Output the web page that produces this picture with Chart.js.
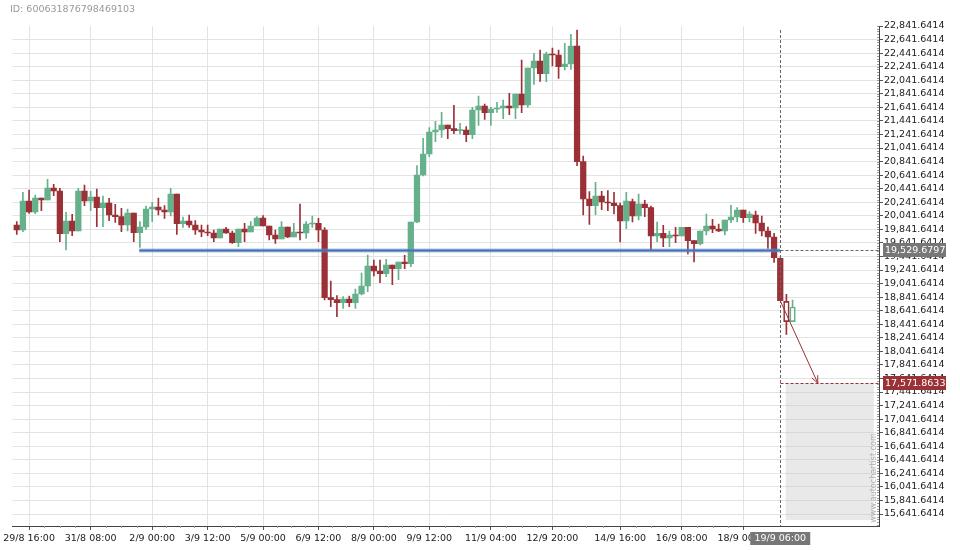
<!DOCTYPE html>
<html><head><meta charset="utf-8">
<script src="https://cdn.jsdelivr.net/npm/chart.js@4.4.0/dist/chart.umd.min.js"></script>
<style>html,body{margin:0;padding:0;background:#fff;} #wrap{width:960px;height:550px;position:relative;}</style>
</head><body><div id="wrap"><canvas id="c"></canvas></div>
<script>
// candle index = number of 4-hour steps since 29/8 16:00
const candleStart = -2;
const opens = [19906,19832,20260,20097,20304,20274,20451,20407,19778,19965,19817,20407,20260,20319,20161,20230,20053,20028,19906,20083,19792,19876,20142,20171,20127,20097,20363,19925,19965,19906,19832,19802,19788,19714,19847,19788,19645,19847,19802,19891,20009,19891,19758,19699,19876,19728,19802,19788,19920,19930,19832,18833,18804,18760,18814,18760,18887,19006,19301,19227,19187,19315,19261,19360,19335,19950,20643,20953,21278,21307,21381,21327,21297,21307,21238,21602,21661,21563,21617,21632,21661,21632,21838,21676,22222,22325,22138,22429,22414,22242,22281,22547,20840,20289,20191,20334,20245,20230,20191,19965,20250,20038,20216,20162,19743,19783,19714,19758,19743,19871,19675,19630,19817,19891,19847,19817,19980,20024,20127,20014,20053,19935,19817,19728,19414,18779,18479];
const highs = [19955,20387,20422,20348,20304,20579,20506,20447,20092,20063,20447,20496,20402,20437,20333,20299,20210,20151,20142,20083,19955,20186,20240,20304,20191,20447,20363,20024,20053,19969,19906,19906,19832,19847,19871,19817,19847,19930,19955,20028,20043,19891,19832,19955,19876,19930,20215,19955,20038,20004,19866,19079,18863,18848,18858,18961,19197,19463,19389,19389,19399,19315,19360,19458,19950,20781,21184,21342,21435,21568,21381,21671,21406,21356,21642,21809,21691,21642,21716,21750,21848,21838,22340,22222,22438,22488,22458,22517,22488,22586,22719,22783,20924,20398,20535,20402,20412,20388,20230,20388,20289,20363,20270,20186,19950,19901,19817,19871,19871,19871,19675,19817,20068,19989,19920,19980,20196,20162,20127,20103,20112,20038,19876,19782,19424,18883,18799];
const lows = [19768,19807,20078,20073,20117,20274,20338,19660,19537,19748,19817,20191,20117,19881,19881,19969,19945,19807,19817,19660,19576,19842,19955,20053,20004,20038,19768,19871,19871,19768,19733,19748,19660,19714,19783,19635,19586,19660,19802,19891,19891,19684,19635,19699,19719,19728,19684,19709,19871,19660,18799,18701,18553,18676,18701,18676,18873,18922,19153,19055,19143,19025,19099,19261,19291,19940,20629,20914,21135,21199,21179,21253,21248,21135,21179,21376,21465,21376,21568,21474,21533,21474,21563,21642,21981,22025,22020,22252,22070,22193,22202,20781,20053,19915,20058,20132,20117,20068,19655,19852,19950,19980,20029,19537,19660,19586,19586,19645,19743,19478,19360,19611,19758,19793,19807,19758,19940,19950,19945,19950,19782,19743,19561,19355,18789,18292,18479];
const closes = [19832,20260,20097,20304,20274,20451,20407,19778,19965,19817,20407,20260,20319,20161,20230,20053,20028,19906,20083,19792,19876,20142,20171,20127,20097,20363,19925,19965,19906,19832,19802,19788,19714,19847,19788,19645,19847,19802,19891,20009,19891,19758,19699,19876,19728,19802,19788,19920,19935,19832,18833,18804,18760,18814,18760,18887,19006,19301,19227,19187,19315,19261,19360,19335,19950,20643,20953,21278,21307,21381,21327,21297,21307,21238,21602,21661,21563,21617,21632,21661,21632,21838,21676,22222,22325,22138,22429,22414,22242,22281,22547,20840,20289,20191,20334,20245,20230,20191,19965,20260,20038,20216,20162,19743,19783,19714,19758,19743,19871,19675,19630,19817,19891,19847,19817,19980,20024,20127,20014,20068,19935,19817,19728,19424,18789,18479,18696];
const hollowCandles = [123, 124];

const xTickPositions = [0,10,20,29,38,47,56,65,75,85,96,106,116];
const xTickLabels = ['29/8 16:00','31/8 08:00','2/9 00:00','3/9 12:00','5/9 00:00','6/9 12:00','8/9 00:00','9/9 12:00','11/9 04:00','12/9 20:00','14/9 16:00','16/9 08:00','18/9 00:00'];
const yTickValues = [15641.6414,15841.6414,16041.6414,16241.6414,16441.6414,16641.6414,16841.6414,17041.6414,17241.6414,17441.6414,17641.6414,17841.6414,18041.6414,18241.6414,18441.6414,18641.6414,18841.6414,19041.6414,19241.6414,19441.6414,19641.6414,19841.6414,20041.6414,20241.6414,20441.6414,20641.6414,20841.6414,21041.6414,21241.6414,21441.6414,21641.6414,21841.6414,22041.6414,22241.6414,22441.6414,22641.6414,22841.6414];

const supportLevel = 19529.6797;
const supportStartIndex = 17.9;
const signalIndex = 122;
const signalLabel = '19/9 06:00';
const targetLevel = 17571.8633;
const arrowStartLevel = 18788.6;
const arrowEndIndex = 128.1;
const forecastStartIndex = 122.9;
const forecastEndIndex = 137.2;
const forecastLowLevel = 15553;
const chartId = 'ID: 600631876798469103';
const watermark = 'www.autochartist.com';

const FONT = '"DejaVu Sans", sans-serif';
const FS = 9.5;
const GREEN = '#64b18b', RED = '#9b3136';

const fmt = v => v.toLocaleString('en-US', {minimumFractionDigits:4, maximumFractionDigits:4});
const isHollow = i => hollowCandles.includes(candleStart + i);
const col = i => closes[i] >= opens[i] ? GREEN : RED;

const bodyData = opens.map((o,i)=>({x:candleStart+i, y:[o, closes[i]]}));
const upperData = opens.map((o,i)=>({x:candleStart+i, y:[Math.max(o,closes[i]), highs[i]]}));
const lowerData = opens.map((o,i)=>({x:candleStart+i, y:[lows[i], Math.min(o,closes[i])]}));

const annot = {
  id:'annot',
  beforeDatasetsDraw(chart){
    const {ctx, scales:{x,y}} = chart;
    const x0=x.getPixelForValue(forecastStartIndex), x1=x.getPixelForValue(forecastEndIndex);
    const y0=y.getPixelForValue(targetLevel), y1=y.getPixelForValue(forecastLowLevel);
    ctx.save();
    ctx.fillStyle='rgba(200,200,200,0.4)';
    ctx.fillRect(x0,y0,x1-x0,y1-y0);
    ctx.restore();
  },
  afterDatasetsDraw(chart){
    const {ctx, chartArea:a, scales:{x,y}} = chart;
    ctx.save();
    const ys = y.getPixelForValue(supportLevel);
    const xs0 = x.getPixelForValue(supportStartIndex), xs1 = x.getPixelForValue(signalIndex);
    ctx.lineCap='butt';
    ctx.strokeStyle='rgba(110,150,205,0.55)'; ctx.lineWidth=4;
    ctx.beginPath(); ctx.moveTo(xs0,ys); ctx.lineTo(xs1,ys); ctx.stroke();
    ctx.strokeStyle='#4272b5'; ctx.lineWidth=2;
    ctx.beginPath(); ctx.moveTo(xs0,ys); ctx.lineTo(xs1,ys); ctx.stroke();
    const xsig = Math.round(x.getPixelForValue(signalIndex))+0.5;
    ctx.setLineDash([3,2]); ctx.lineWidth=1;
    ctx.strokeStyle='#666';
    ctx.beginPath(); ctx.moveTo(xsig, a.top+4); ctx.lineTo(xsig, a.bottom); ctx.stroke();
    const ysr = Math.round(ys)+0.5;
    ctx.beginPath(); ctx.moveTo(xsig, ysr); ctx.lineTo(a.right, ysr); ctx.stroke();
    const yt = Math.round(y.getPixelForValue(targetLevel))+0.5;
    ctx.strokeStyle=RED;
    ctx.beginPath(); ctx.moveTo(xsig, yt); ctx.lineTo(a.right, yt); ctx.stroke();
    ctx.setLineDash([]);
    const ax0=x.getPixelForValue(signalIndex), ay0=y.getPixelForValue(arrowStartLevel);
    const ax1=x.getPixelForValue(arrowEndIndex), ay1=y.getPixelForValue(targetLevel);
    ctx.strokeStyle=RED; ctx.lineWidth=1;
    ctx.beginPath(); ctx.moveTo(ax0,ay0); ctx.lineTo(ax1,ay1); ctx.stroke();
    const ang=Math.atan2(ay1-ay0, ax1-ax0), L=8, sp=0.42;
    ctx.beginPath();
    ctx.moveTo(ax1-L*Math.cos(ang-sp), ay1-L*Math.sin(ang-sp)); ctx.lineTo(ax1,ay1);
    ctx.lineTo(ax1-L*Math.cos(ang+sp), ay1-L*Math.sin(ang+sp)); ctx.stroke();
    ctx.restore();
  },
  afterDraw(chart){
    const {ctx, chartArea:a, scales:{x,y}} = chart;
    ctx.save();
    ctx.strokeStyle='#999'; ctx.lineWidth=1;
    ctx.beginPath();
    for (let v=yTickValues[0]-200; v<=y.max; v+=40){
      const py=y.getPixelForValue(v);
      if (py<a.top||py>a.bottom) continue;
      ctx.moveTo(a.right-2, Math.round(py)+0.5); ctx.lineTo(a.right, Math.round(py)+0.5);
    }
    for (let j=0;j<xTickPositions.length-1;j++){
      const p0=xTickPositions[j], p1=xTickPositions[j+1];
      for (let q=1;q<4;q++){
        const px=Math.round(x.getPixelForValue(p0+(p1-p0)*q/4))+0.5;
        ctx.moveTo(px,a.bottom); ctx.lineTo(px,a.bottom+2);
      }
    }
    ctx.stroke();
    ctx.font = FS+'px '+FONT; ctx.textBaseline='middle'; ctx.textAlign='left';
    const ys=y.getPixelForValue(supportLevel);
    ctx.fillStyle='#777'; ctx.fillRect(a.right+4, Math.round(ys)-7, 63, 14);
    ctx.fillStyle='#fff'; ctx.fillText(fmt(supportLevel), a.right+6, ys+0.5);
    const yt=y.getPixelForValue(targetLevel);
    ctx.fillStyle=RED; ctx.fillRect(a.right+4, Math.round(yt)-7, 63, 14);
    ctx.fillStyle='#fff'; ctx.fillText(fmt(targetLevel), a.right+6, yt+0.5);
    const xsig=x.getPixelForValue(signalIndex);
    ctx.textAlign='center';
    ctx.fillStyle='#777'; ctx.fillRect(xsig-30, a.bottom+6, 60, 13);
    ctx.fillStyle='#fff'; ctx.fillText(signalLabel, xsig, a.bottom+12.5);
    ctx.textAlign='left'; ctx.fillStyle='#999';
    ctx.fillText(chartId, 10, 10);
    ctx.translate(a.right-5.5, 478); ctx.rotate(-Math.PI/2);
    ctx.textAlign='center'; ctx.fillStyle='#b0b0b0'; ctx.font='8px '+FONT;
    ctx.fillText(watermark, 0, 0);
    ctx.restore();
  }
};

const wickCommon = {type:'bar', grouped:false, barThickness:1, borderWidth:0, order:2,
  backgroundColor: c => col(c.dataIndex)};

new Chart(document.getElementById('c'), {
  type:'bar',
  data:{ datasets:[
    { label:'body', data:bodyData, grouped:false, barThickness:5.6, minBarLength:1, order:0,
      borderSkipped:false,
      backgroundColor: c => isHollow(c.dataIndex) ? 'rgba(255,255,255,0)' : col(c.dataIndex),
      borderColor: c => col(c.dataIndex),
      borderWidth: c => isHollow(c.dataIndex) ? 1 : 0 },
    Object.assign({label:'upper', data:upperData}, wickCommon),
    Object.assign({label:'lower', data:lowerData}, wickCommon)
  ]},
  options:{
    responsive:true, maintainAspectRatio:false, animation:false,
    layout:{padding:{left:11, top:26, right:0, bottom:0}},
    plugins:{legend:{display:false}, tooltip:{enabled:false}},
    scales:{
      x:{ type:'linear', min:-2.691, max:138.04, offset:false,
        afterBuildTicks: s => { s.ticks = xTickPositions.map(v=>({value:v})); },
        afterFit: s => { s.height = 24; },
        ticks:{ autoSkip:false, maxRotation:0, padding:3, color:'#1a1a1a',
          font:{family:FONT, size:FS}, callback:(v,i)=>xTickLabels[i] },
        grid:{ color:'#e3e3e3', offset:false, tickLength:4, tickColor:'#555' },
        border:{ color:'#444' } },
      y:{ type:'linear', position:'right', min:15464.6, max:22841.6414,
        afterBuildTicks: s => { s.ticks = yTickValues.map(v=>({value:v})); },
        afterFit: s => { s.width = 81; },
        ticks:{ autoSkip:false, padding:1, color:'#1a1a1a',
          font:{family:FONT, size:FS}, callback:v=>fmt(v) },
        grid:{ color: c => (c.tick && c.tick.value>=22841) ? 'rgba(0,0,0,0)' : '#e3e3e3',
          tickLength:4, tickColor:'#555' },
        border:{ color:'#444' } }
    }
  },
  plugins:[annot]
});
</script></body></html>
